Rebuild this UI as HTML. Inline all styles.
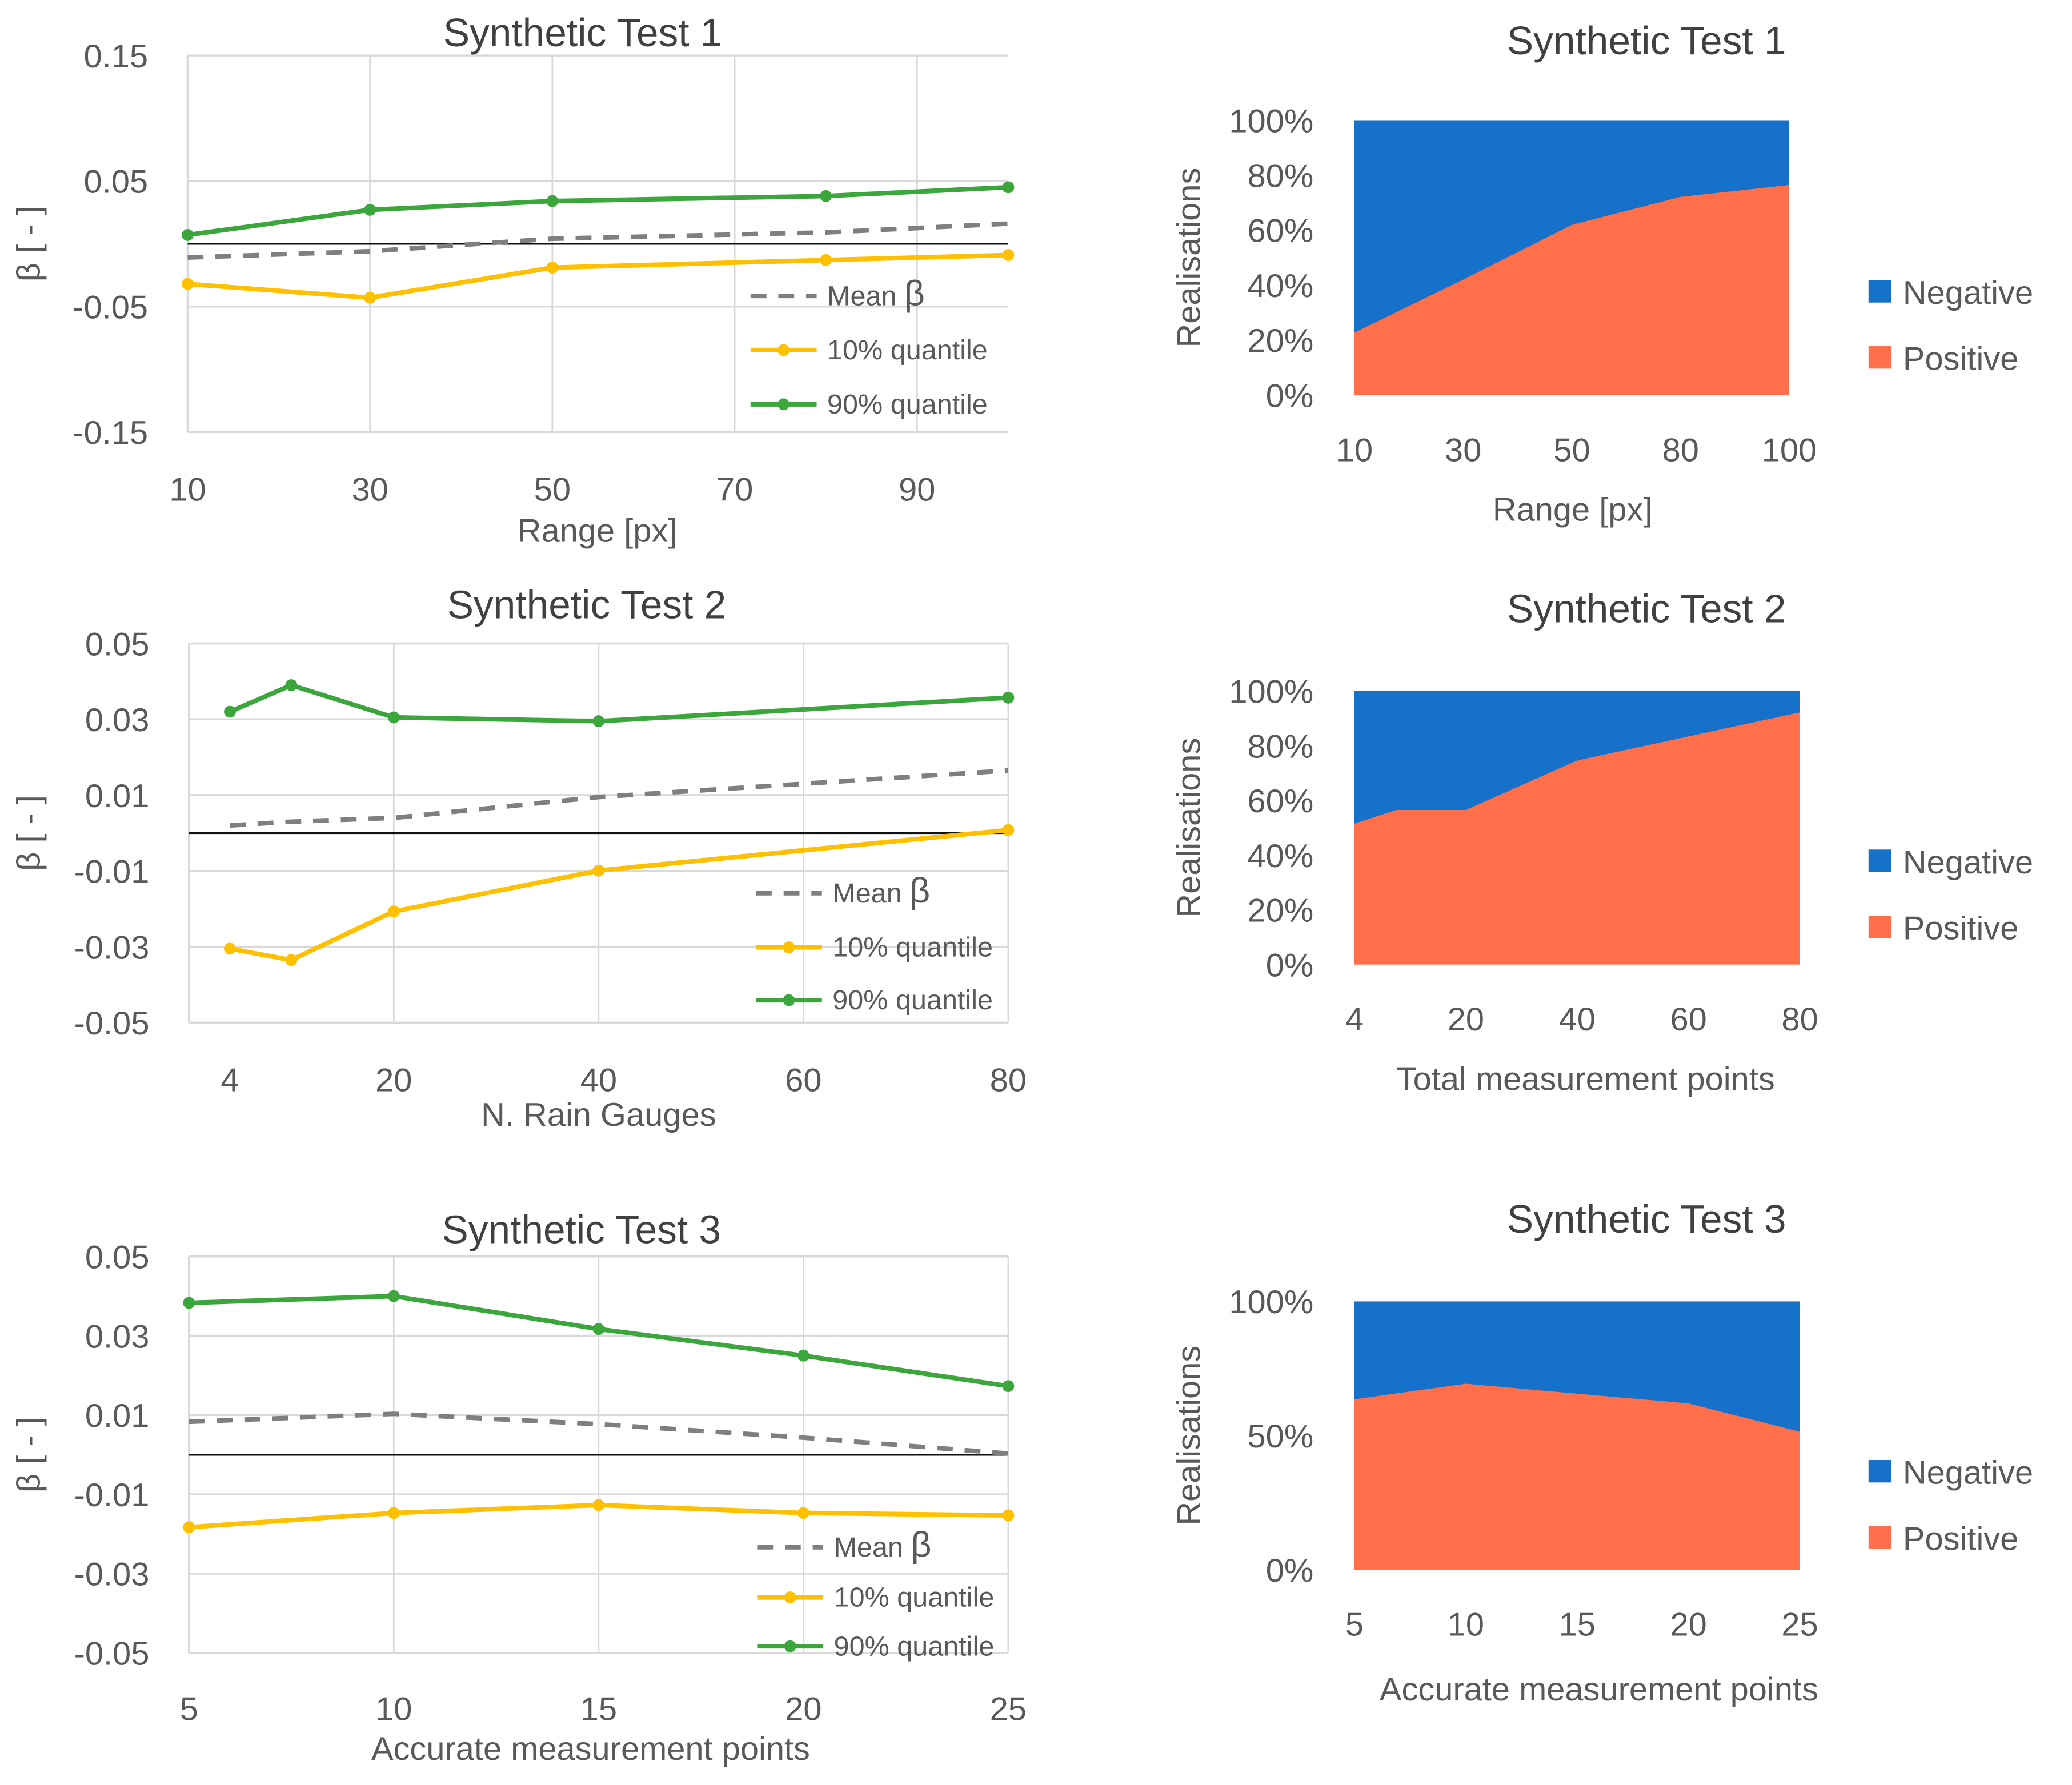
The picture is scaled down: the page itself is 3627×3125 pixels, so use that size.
<!DOCTYPE html>
<html><head><meta charset="utf-8"><style>
html,body{margin:0;padding:0;background:#fff;}
svg{display:block;font-family:"Liberation Sans",sans-serif;}
</style></head><body>
<svg id="fig" width="3627" height="3125" viewBox="0 0 1568 1351" preserveAspectRatio="none" xmlns="http://www.w3.org/2000/svg"></svg>
<script>
// ---- Line chart data ----
const l1X = [10, 30, 50, 80, 100];
const l1Mean = [-0.011, -0.006, 0.004, 0.009, 0.016];
const l1Q10 = [-0.032, -0.043, -0.019, -0.013, -0.009];
const l1Q90 = [0.007, 0.027, 0.034, 0.038, 0.045];
const l1XTicks = [10, 30, 50, 70, 90];
const l1YTicks = ["0.15", "0.05", "-0.05", "-0.15"];

const l2X = [4, 10, 20, 40, 80];
const l2Mean = [0.002, 0.003, 0.004, 0.0095, 0.0165];
const l2Q10 = [-0.0305, -0.0335, -0.0207, -0.0099, 0.0008];
const l2Q90 = [0.032, 0.039, 0.0305, 0.0295, 0.0357];
const l2XTicks = [4, 20, 40, 60, 80];
const l2YTicks = ["0.05", "0.03", "0.01", "-0.01", "-0.03", "-0.05"];

const l3X = [5, 10, 15, 20, 25];
const l3Mean = [0.0083, 0.0103, 0.0077, 0.0043, 0.0003];
const l3Q10 = [-0.0183, -0.0147, -0.0127, -0.0147, -0.0153];
const l3Q90 = [0.0383, 0.040, 0.0317, 0.025, 0.0173];
const l3XTicks = [5, 10, 15, 20, 25];
const l3YTicks = ["0.05", "0.03", "0.01", "-0.01", "-0.03", "-0.05"];

// ---- Area chart data ----
const a1X = [10, 30, 50, 80, 100];
const a1Pos = [22.7, 42, 61.9, 72.1, 76.4];
const a1XTicks = [10, 30, 50, 80, 100];
const a1YTicks = ["0%", "20%", "40%", "60%", "80%", "100%"];

const a2X = [4, 10, 20, 40, 80];
const a2Pos = [51.5, 56.5, 56.5, 74.6, 92.2];
const a2XTicks = [4, 20, 40, 60, 80];
const a2YTicks = ["0%", "20%", "40%", "60%", "80%", "100%"];

const a3X = [5, 10, 15, 20, 25];
const a3Pos = [63.5, 69.3, 65.6, 62, 51.4];
const a3XTicks = [5, 10, 15, 20, 25];
const a3YTicks = ["0%", "50%", "100%"];

const NS = "http://www.w3.org/2000/svg";
const svg = document.getElementById("fig");
const TXT = "#595959";
function mk(tag, attrs, parent, text) {
  const e = document.createElementNS(NS, tag);
  for (const k in attrs) e.setAttribute(k, attrs[k]);
  if (text !== undefined) e.textContent = text;
  (parent || svg).appendChild(e);
  return e;
}

function lineChart(o) {
  const g = mk("g", {});
  
  
  const xs = v => o.x0 + (v - o.xmin) / (o.xmax - o.xmin) * (o.x1 - o.x0);
  const ys = v => o.y1 - (v - o.ymin) / (o.ymax - o.ymin) * (o.y1 - o.y0);
  o.yTicks.forEach(t => {
    const v = parseFloat(t);
    const gl = mk("line", {x1: o.x0, x2: o.x1, y1: ys(v), y2: ys(v), stroke: "#d9d9d9", "stroke-width": 1.5}, g);
    
    
    const tl = mk("text", {x: o.x0 - 30, y: ys(v) + 9, "text-anchor": "end", "font-size": 25, fill: TXT}, g, t);
    
    
  });
  o.vGrid.forEach(v => {
    const vl = mk("line", {x1: xs(v), x2: xs(v), y1: o.y0, y2: o.y1, stroke: "#d9d9d9", "stroke-width": 1.2}, g);
    
    
  });
  const ax = mk("line", {x1: o.x0, x2: o.x0, y1: o.y0, y2: o.y1, stroke: "#d9d9d9", "stroke-width": 1.5}, g);
  
  
  o.xTicks.forEach(v => {
    const xl = mk("text", {x: xs(v), y: o.y1 + o.xlabOff, "text-anchor": "middle", "font-size": 25, fill: TXT}, g, String(v));
    
    
  });
  const zl = mk("line", {x1: o.x0, x2: o.x1, y1: ys(0), y2: ys(0), stroke: "#111", "stroke-width": 1.5}, g);
  
  
  const pts = arr => arr.map((v, i) => xs(o.x[i]) + "," + ys(v)).join(" ");
  const mean = mk("polyline", {points: pts(o.mean), fill: "none", stroke: "#7f7f7f", "stroke-width": 3.5, "stroke-dasharray": "12 9"}, g);
  
  
  [[o.q10, "#FFC000", "q10"], [o.q90, "#3BA63B", "q90"]].forEach(([arr, col, nm]) => {
    const pl = mk("polyline", {points: pts(arr), fill: "none", stroke: col, "stroke-width": 3.5}, g);
    
    
    arr.forEach((v, i) => {
      const c = mk("circle", {cx: xs(o.x[i]), cy: ys(v), r: 4.5, fill: col}, g);
      
      
    });
  });
  const t = mk("text", {x: o.titleX, y: o.titleY, "text-anchor": "middle", "font-size": 30, fill: "#404040"}, g, o.title);
  
  
  const xt = mk("text", {x: o.xtX, y: o.xtY, "text-anchor": "middle", "font-size": 25, fill: TXT}, g, o.xtitle);
  
  
  const cy = (o.y0 + o.y1) / 2;
  const yt = mk("text", {x: 30, y: cy, transform: "rotate(-90 30 " + cy + ")", "text-anchor": "middle", "font-size": 25, fill: TXT}, g, "β [ - ]");
  
  
  const L = o.leg;
  const le1 = mk("line", {x1: L.x, x2: L.x + 50, y1: L.y[0], y2: L.y[0], stroke: "#7f7f7f", "stroke-width": 3.5, "stroke-dasharray": "12 9"}, g);
  
  
  const lt1 = mk("text", {x: L.x + 58, y: L.y[0] + 7, "font-size": 21, fill: TXT}, g, "Mean ");
  
  
  mk("tspan", {"font-size": 27}, lt1, "β");
  [["#FFC000", "10% quantile", 1], ["#3BA63B", "90% quantile", 2]].forEach(([col, lab, k]) => {
    const ls = mk("line", {x1: L.x, x2: L.x + 50, y1: L.y[k], y2: L.y[k], stroke: col, "stroke-width": 3.5}, g);
    
    
    const lc = mk("circle", {cx: L.x + 25, cy: L.y[k], r: 4.5, fill: col}, g);
    
    
    const lt = mk("text", {x: L.x + 58, y: L.y[k] + 7, "font-size": 21, fill: TXT}, g, lab);
    
    
  });
}

function areaChart(o) {
  const g = mk("g", {});
  
  
  const xs = v => {
    const T = o.xTicks, n = T.length - 1;
    for (let i = 0; i < n; i++) {
      if (v <= T[i + 1] || i === n - 1) {
        const f = (v - T[i]) / (T[i + 1] - T[i]);
        return o.x0 + (i + f) / n * (o.x1 - o.x0);
      }
    }
  };
  const ys = v => o.y1 - v / 100 * (o.y1 - o.y0);
  const neg = mk("rect", {x: o.x0, y: o.y0, width: o.x1 - o.x0, height: o.y1 - o.y0, fill: "#1571C9"}, g);
  
  
  let p = o.x.map((v, i) => xs(v) + "," + ys(o.pos[i])).join(" ");
  p += " " + o.x1 + "," + o.y1 + " " + o.x0 + "," + o.y1;
  const pos = mk("polygon", {points: p, fill: "#FF704A"}, g);
  
  
  o.yTicks.forEach(t => {
    const v = parseFloat(t);
    const tl = mk("text", {x: 994, y: ys(v) + 9, "text-anchor": "end", "font-size": 25, fill: TXT}, g, t);
    
    
  });
  o.xTicks.forEach(v => {
    const xl = mk("text", {x: xs(v), y: o.y1 + 50, "text-anchor": "middle", "font-size": 25, fill: TXT}, g, String(v));
    
    
  });
  const t = mk("text", {x: 1246, y: o.titleY, "text-anchor": "middle", "font-size": 30, fill: "#404040"}, g, o.title);
  
  
  const xt = mk("text", {x: o.xtX, y: o.xtY, "text-anchor": "middle", "font-size": 25, fill: TXT}, g, o.xtitle);
  
  
  const cy = (o.y0 + o.y1) / 2;
  const yt = mk("text", {x: 908, y: cy, transform: "rotate(-90 908 " + cy + ")", "text-anchor": "middle", "font-size": 25, fill: TXT}, g, "Realisations");
  
  
  [["#1571C9", "Negative", 0], ["#FF704A", "Positive", 1]].forEach(([col, lab, k]) => {
    const yy = o.legY + k * 50;
    const r = mk("rect", {x: 1414, y: yy - 8, width: 17, height: 17, fill: col}, g);
    
    
    const lt = mk("text", {x: 1440, y: yy + 10, "font-size": 25, fill: TXT}, g, lab);
    
    
  });
}

lineChart({name: "beta-chart-1", x: l1X, mean: l1Mean, q10: l1Q10, q90: l1Q90, xTicks: l1XTicks, yTicks: l1YTicks,
  x0: 142, x1: 763, y0: 42, y1: 327, xmin: 10, xmax: 100, ymin: -0.15, ymax: 0.15, vGrid: [30, 50, 70, 90], xlabOff: 52,
  title: "Synthetic Test 1", titleX: 441, titleY: 35, xtitle: "Range [px]", xtX: 452, xtY: 410,
  leg: {x: 568, y: [224, 265, 306]}});
lineChart({name: "beta-chart-2", x: l2X, mean: l2Mean, q10: l2Q10, q90: l2Q90, xTicks: l2XTicks, yTicks: l2YTicks,
  x0: 143, x1: 763, y0: 487, y1: 774, xmin: 0, xmax: 80, ymin: -0.05, ymax: 0.05, vGrid: [20, 40, 60, 80], xlabOff: 52,
  title: "Synthetic Test 2", titleX: 444, titleY: 468, xtitle: "N. Rain Gauges", xtX: 453, xtY: 852,
  leg: {x: 572, y: [676, 717, 757]}});
lineChart({name: "beta-chart-3", x: l3X, mean: l3Mean, q10: l3Q10, q90: l3Q90, xTicks: l3XTicks, yTicks: l3YTicks,
  x0: 143, x1: 763, y0: 951, y1: 1251, xmin: 5, xmax: 25, ymin: -0.05, ymax: 0.05, vGrid: [10, 15, 20, 25], xlabOff: 51,
  title: "Synthetic Test 3", titleX: 440, titleY: 941, xtitle: "Accurate measurement points", xtX: 447, xtY: 1332,
  leg: {x: 573, y: [1171, 1209, 1246]}});

areaChart({name: "sign-chart-1", x: a1X, pos: a1Pos, xTicks: a1XTicks, yTicks: a1YTicks,
  x0: 1025, x1: 1354, y0: 91, y1: 299, title: "Synthetic Test 1", titleY: 41, xtitle: "Range [px]", xtX: 1190, xtY: 394, legY: 220});
areaChart({name: "sign-chart-2", x: a2X, pos: a2Pos, xTicks: a2XTicks, yTicks: a2YTicks,
  x0: 1025, x1: 1362, y0: 523, y1: 730, title: "Synthetic Test 2", titleY: 471, xtitle: "Total measurement points", xtX: 1200, xtY: 825, legY: 651});
areaChart({name: "sign-chart-3", x: a3X, pos: a3Pos, xTicks: a3XTicks, yTicks: a3YTicks,
  x0: 1025, x1: 1362, y0: 985, y1: 1188, title: "Synthetic Test 3", titleY: 933, xtitle: "Accurate measurement points", xtX: 1210, xtY: 1287, legY: 1113});
</script>
</body></html>
